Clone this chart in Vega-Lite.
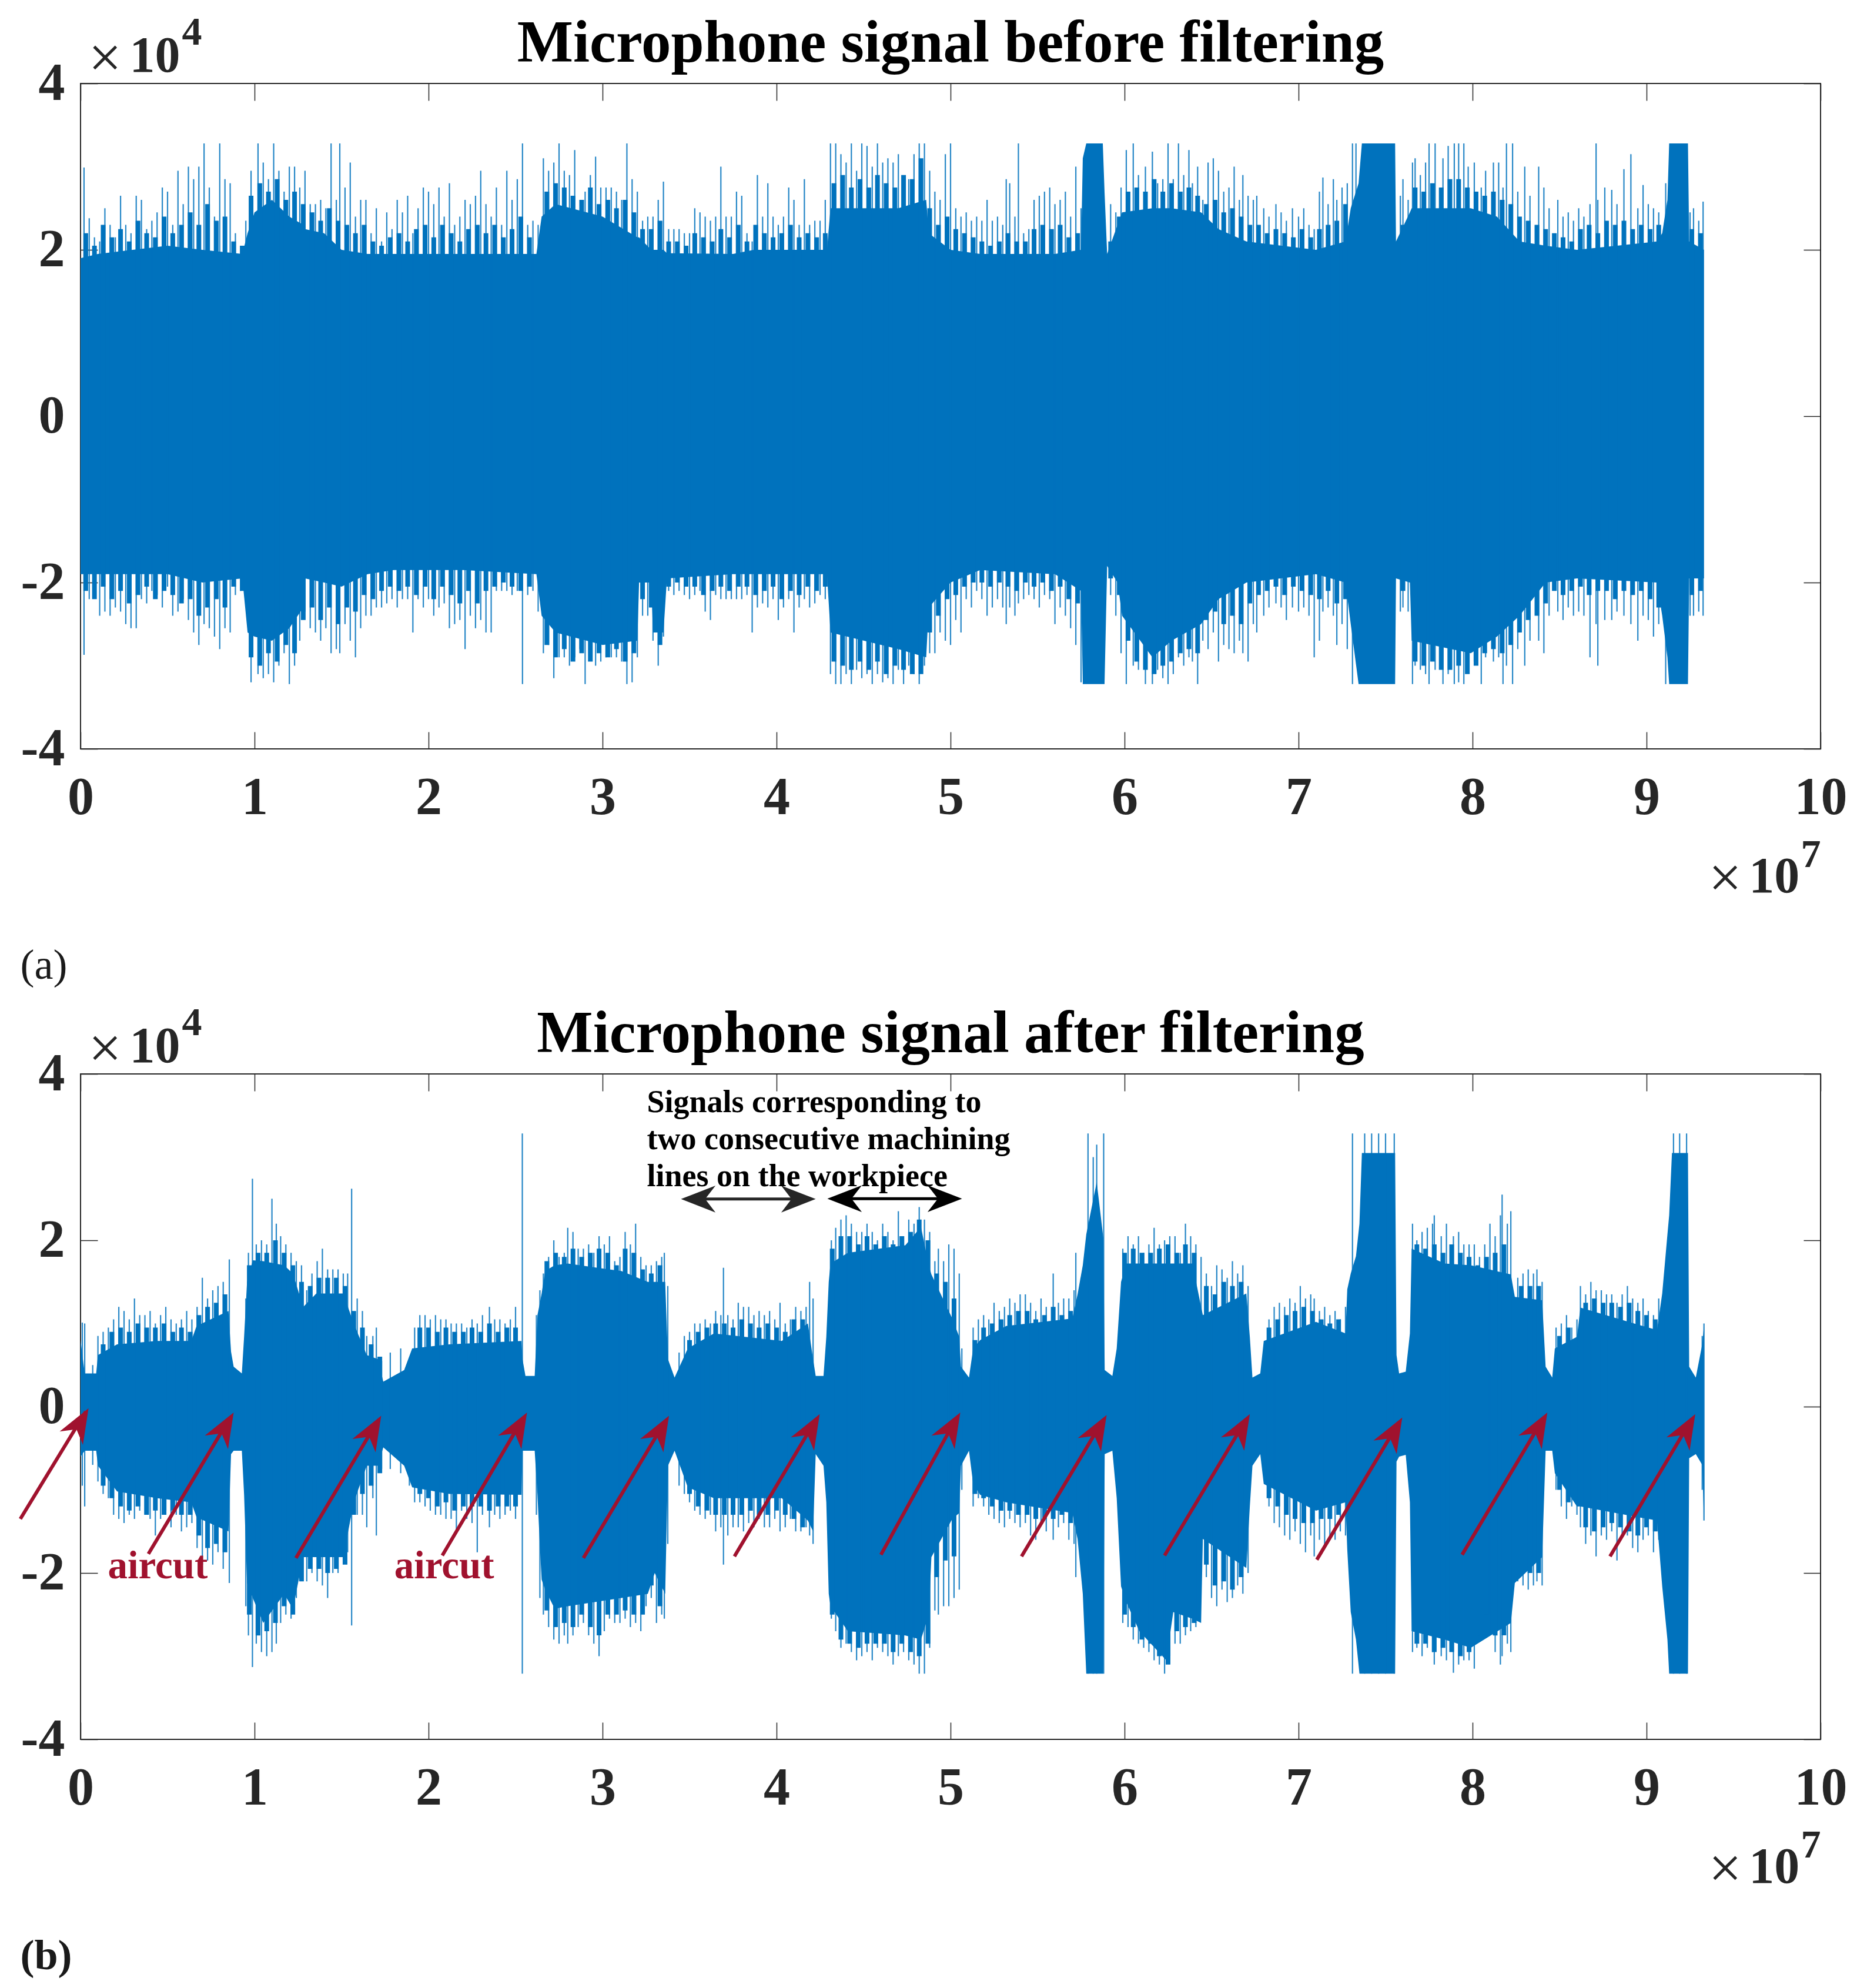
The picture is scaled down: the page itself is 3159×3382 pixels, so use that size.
{"$schema":"https://vega.github.io/schema/vega-lite/v6.json","background":"white","padding":{"left":30,"top":21,"right":0,"bottom":0},"bounds":"flush","spacing":553,"config":{"view":{"stroke":"#262626","strokeWidth":2}},
"datasets":{
"core1":[{"x":0,"h":1.9,"l":-1.9},{"x":0.1,"h":1.95,"l":-1.9},{"x":0.3,"h":2,"l":-1.9},{"x":0.5,"h":2.05,"l":-1.9},{"x":0.7,"h":2,"l":-2},{"x":0.93,"h":1.95,"l":-1.95},{"x":0.96,"h":2.2,"l":-2.6},{"x":1,"h":2.45,"l":-2.65},{"x":1.1,"h":2.6,"l":-2.7},{"x":1.2,"h":2.4,"l":-2.55},{"x":1.28,"h":2.3,"l":-2.3},{"x":1.29,"h":2.25,"l":-1.95},{"x":1.4,"h":2.2,"l":-2},{"x":1.5,"h":2,"l":-2.05},{"x":1.65,"h":1.95,"l":-1.9},{"x":1.8,"h":1.95,"l":-1.85},{"x":2.2,"h":1.95,"l":-1.85},{"x":2.62,"h":1.95,"l":-1.9},{"x":2.65,"h":2.4,"l":-2.4},{"x":2.73,"h":2.55,"l":-2.6},{"x":3,"h":2.4,"l":-2.75},{"x":3.2,"h":2.15,"l":-2.7},{"x":3.21,"h":2.15,"l":-2},{"x":3.28,"h":2,"l":-2},{"x":3.29,"h":2,"l":-2.6},{"x":3.35,"h":2,"l":-2.6},{"x":3.37,"h":1.96,"l":-1.95},{"x":3.75,"h":1.95,"l":-1.9},{"x":3.87,"h":2,"l":-1.9},{"x":4.29,"h":2,"l":-1.9},{"x":4.31,"h":2.5,"l":-2.6},{"x":4.7,"h":2.5,"l":-2.8},{"x":4.86,"h":2.6,"l":-2.9},{"x":4.875,"h":2.2,"l":-2.3},{"x":5,"h":2,"l":-2},{"x":5.17,"h":1.95,"l":-1.85},{"x":5.6,"h":1.95,"l":-1.9},{"x":5.75,"h":2,"l":-2.1},{"x":5.76,"h":3.1,"l":-3.22},{"x":5.78,"h":3.28,"l":-3.22},{"x":5.875,"h":3.28,"l":-3.22},{"x":5.885,"h":2.7,"l":-3.22},{"x":5.9,"h":1.95,"l":-1.8},{"x":5.96,"h":2.3,"l":-2},{"x":5.986,"h":2.45,"l":-2.4},{"x":6.16,"h":2.5,"l":-2.9},{"x":6.27,"h":2.5,"l":-2.7},{"x":6.44,"h":2.45,"l":-2.5},{"x":6.54,"h":2.25,"l":-2.2},{"x":6.7,"h":2.1,"l":-2},{"x":7.1,"h":2,"l":-1.9},{"x":7.27,"h":2.1,"l":-2},{"x":7.3,"h":2.5,"l":-2.5},{"x":7.345,"h":2.8,"l":-3.22},{"x":7.364,"h":3.28,"l":-3.22},{"x":7.555,"h":3.28,"l":-3.22},{"x":7.56,"h":2.1,"l":-1.95},{"x":7.64,"h":2.45,"l":-2},{"x":7.65,"h":2.5,"l":-2.7},{"x":7.99,"h":2.5,"l":-2.85},{"x":8.14,"h":2.4,"l":-2.65},{"x":8.27,"h":2.1,"l":-2.4},{"x":8.42,"h":2.05,"l":-2},{"x":8.6,"h":2,"l":-1.95},{"x":9.06,"h":2.1,"l":-2},{"x":9.09,"h":2.2,"l":-2.4},{"x":9.12,"h":2.6,"l":-2.9},{"x":9.13,"h":3.28,"l":-3.22},{"x":9.238,"h":3.28,"l":-3.22},{"x":9.245,"h":2.1,"l":-1.95},{"x":9.33,"h":2,"l":-1.95}],
"fr1":[{"x":0.03,"h":2.2,"l":-2.1},{"x":0.08,"h":2.05,"l":-2.2},{"x":0.13,"h":2.3,"l":-2.05},{"x":0.18,"h":2.15,"l":-2.2},{"x":0.23,"h":2.25,"l":-2.1},{"x":0.28,"h":2.1,"l":-2.25},{"x":0.33,"h":2.35,"l":-2.15},{"x":0.38,"h":2.2,"l":-2.05},{"x":0.43,"h":2.15,"l":-2.2},{"x":0.48,"h":2.4,"l":-2.1},{"x":0.53,"h":2.2,"l":-2.15},{"x":0.58,"h":2.3,"l":-2.25},{"x":0.63,"h":2.45,"l":-2.2},{"x":0.68,"h":2.3,"l":-2.4},{"x":0.73,"h":2.55,"l":-2.3},{"x":0.78,"h":2.35,"l":-2.2},{"x":0.83,"h":2.4,"l":-2.3},{"x":0.88,"h":2.1,"l":-2.05},{"x":0.93,"h":2.05,"l":-2.1},{"x":0.98,"h":2.65,"l":-2.9},{"x":1.03,"h":2.8,"l":-3},{"x":1.08,"h":2.7,"l":-2.85},{"x":1.13,"h":2.85,"l":-2.95},{"x":1.18,"h":2.6,"l":-2.75},{"x":1.23,"h":2.7,"l":-2.85},{"x":1.28,"h":2.55,"l":-2.45},{"x":1.33,"h":2.45,"l":-2.3},{"x":1.38,"h":2.35,"l":-2.45},{"x":1.43,"h":2.5,"l":-2.3},{"x":1.48,"h":2.35,"l":-2.5},{"x":1.53,"h":2.3,"l":-2.3},{"x":1.58,"h":2.2,"l":-2.35},{"x":1.63,"h":2.3,"l":-2.15},{"x":1.68,"h":2.1,"l":-2.2},{"x":1.73,"h":2.05,"l":-2.1},{"x":1.78,"h":2.15,"l":-2.05},{"x":1.83,"h":2.2,"l":-2.1},{"x":1.88,"h":2.1,"l":-2.05},{"x":1.93,"h":2.25,"l":-2.15},{"x":1.98,"h":2.3,"l":-2.05},{"x":2.03,"h":2.15,"l":-2.2},{"x":2.08,"h":2.3,"l":-2.05},{"x":2.13,"h":2.2,"l":-2.15},{"x":2.18,"h":2.1,"l":-2.25},{"x":2.23,"h":2.25,"l":-2.1},{"x":2.28,"h":2.3,"l":-2.25},{"x":2.33,"h":2.2,"l":-2.1},{"x":2.38,"h":2.3,"l":-2.05},{"x":2.43,"h":2.15,"l":-2},{"x":2.48,"h":2.25,"l":-2.05},{"x":2.53,"h":2.4,"l":-2.1},{"x":2.58,"h":2.15,"l":-2.05},{"x":2.68,"h":2.7,"l":-2.75},{"x":2.73,"h":2.8,"l":-2.9},{"x":2.78,"h":2.75,"l":-2.8},{"x":2.83,"h":2.65,"l":-2.95},{"x":2.88,"h":2.6,"l":-2.85},{"x":2.93,"h":2.75,"l":-2.95},{"x":2.98,"h":2.55,"l":-2.85},{"x":3.03,"h":2.6,"l":-2.9},{"x":3.08,"h":2.5,"l":-2.8},{"x":3.13,"h":2.6,"l":-2.95},{"x":3.18,"h":2.45,"l":-2.85},{"x":3.23,"h":2.25,"l":-2.2},{"x":3.28,"h":2.25,"l":-2.3},{"x":3.33,"h":2.35,"l":-2.75},{"x":3.38,"h":2.1,"l":-2.05},{"x":3.43,"h":2.1,"l":-2},{"x":3.48,"h":2.05,"l":-2.05},{"x":3.53,"h":2.2,"l":-2.05},{"x":3.58,"h":2.15,"l":-2.15},{"x":3.63,"h":2.1,"l":-2.1},{"x":3.68,"h":2.25,"l":-2.05},{"x":3.73,"h":2.15,"l":-2.1},{"x":3.78,"h":2.3,"l":-2.05},{"x":3.83,"h":2.1,"l":-2.05},{"x":3.88,"h":2.3,"l":-2.15},{"x":3.93,"h":2.2,"l":-2.1},{"x":3.98,"h":2.15,"l":-2.05},{"x":4.03,"h":2.2,"l":-2.2},{"x":4.08,"h":2.3,"l":-2.1},{"x":4.13,"h":2.15,"l":-2.15},{"x":4.18,"h":2.2,"l":-2.05},{"x":4.23,"h":2.15,"l":-2.1},{"x":4.28,"h":2.2,"l":-2.05},{"x":4.33,"h":2.8,"l":-2.95},{"x":4.38,"h":2.9,"l":-3},{"x":4.43,"h":2.75,"l":-3.05},{"x":4.48,"h":2.85,"l":-2.95},{"x":4.53,"h":2.75,"l":-3.05},{"x":4.58,"h":2.9,"l":-2.95},{"x":4.63,"h":2.8,"l":-3.1},{"x":4.68,"h":2.75,"l":-3},{"x":4.73,"h":2.9,"l":-3.05},{"x":4.78,"h":2.85,"l":-3.1},{"x":4.83,"h":3.1,"l":-3.1},{"x":4.88,"h":2.5,"l":-2.6},{"x":4.93,"h":2.3,"l":-2.4},{"x":4.98,"h":2.4,"l":-2.2},{"x":5.03,"h":2.25,"l":-2.15},{"x":5.08,"h":2.2,"l":-2.05},{"x":5.13,"h":2.15,"l":-2},{"x":5.18,"h":2.1,"l":-2},{"x":5.23,"h":2.05,"l":-2.05},{"x":5.28,"h":2.1,"l":-2},{"x":5.33,"h":2.2,"l":-2.05},{"x":5.38,"h":2.1,"l":-2.1},{"x":5.43,"h":2.1,"l":-2},{"x":5.48,"h":2.25,"l":-2.05},{"x":5.53,"h":2.3,"l":-2},{"x":5.58,"h":2.25,"l":-2.1},{"x":5.63,"h":2.3,"l":-2.05},{"x":5.68,"h":2.15,"l":-2.2},{"x":5.73,"h":2.2,"l":-2.25},{"x":5.92,"h":2.1,"l":-1.95},{"x":5.97,"h":2.4,"l":-2.15},{"x":6.02,"h":2.7,"l":-2.7},{"x":6.07,"h":2.75,"l":-2.95},{"x":6.12,"h":2.7,"l":-3.05},{"x":6.17,"h":2.85,"l":-3.1},{"x":6.22,"h":2.7,"l":-3},{"x":6.27,"h":2.8,"l":-2.95},{"x":6.32,"h":2.7,"l":-2.85},{"x":6.37,"h":2.75,"l":-2.8},{"x":6.42,"h":2.65,"l":-2.85},{"x":6.47,"h":2.55,"l":-2.45},{"x":6.52,"h":2.6,"l":-2.35},{"x":6.57,"h":2.45,"l":-2.5},{"x":6.62,"h":2.5,"l":-2.4},{"x":6.67,"h":2.4,"l":-2.5},{"x":6.72,"h":2.3,"l":-2.25},{"x":6.77,"h":2.3,"l":-2.15},{"x":6.82,"h":2.2,"l":-2.1},{"x":6.87,"h":2.25,"l":-2.05},{"x":6.92,"h":2.2,"l":-2.15},{"x":6.97,"h":2.15,"l":-2.05},{"x":7.02,"h":2.25,"l":-2.1},{"x":7.07,"h":2.15,"l":-2.15},{"x":7.12,"h":2.25,"l":-2.2},{"x":7.17,"h":2.3,"l":-2.1},{"x":7.22,"h":2.35,"l":-2.25},{"x":7.27,"h":2.55,"l":-2.2},{"x":7.6,"h":2.3,"l":-2.1},{"x":7.67,"h":2.75,"l":-2.95},{"x":7.72,"h":2.7,"l":-3},{"x":7.77,"h":2.8,"l":-2.95},{"x":7.82,"h":2.75,"l":-3.05},{"x":7.87,"h":2.85,"l":-3.05},{"x":7.92,"h":2.85,"l":-3},{"x":7.97,"h":2.75,"l":-3.1},{"x":8.02,"h":2.7,"l":-3},{"x":8.07,"h":2.65,"l":-2.85},{"x":8.12,"h":2.7,"l":-2.8},{"x":8.17,"h":2.6,"l":-2.85},{"x":8.22,"h":2.55,"l":-2.75},{"x":8.27,"h":2.4,"l":-2.6},{"x":8.32,"h":2.35,"l":-2.45},{"x":8.37,"h":2.3,"l":-2.4},{"x":8.42,"h":2.25,"l":-2.25},{"x":8.47,"h":2.2,"l":-2.1},{"x":8.52,"h":2.15,"l":-2.15},{"x":8.57,"h":2.1,"l":-2.1},{"x":8.62,"h":2.25,"l":-2.05},{"x":8.67,"h":2.3,"l":-2.15},{"x":8.72,"h":2.2,"l":-2.1},{"x":8.77,"h":2.35,"l":-2.1},{"x":8.82,"h":2.3,"l":-2.2},{"x":8.87,"h":2.35,"l":-2.1},{"x":8.92,"h":2.25,"l":-2.15},{"x":8.97,"h":2.3,"l":-2.1},{"x":9.02,"h":2.25,"l":-2.2},{"x":9.07,"h":2.3,"l":-2.3},{"x":9.26,"h":2.25,"l":-2.15},{"x":9.31,"h":2.2,"l":-2.1}],
"sp1":[{"x":0.02,"h":2.99,"l":-2.87},{"x":0.05,"h":2.38,"l":-2.2},{"x":0.08,"h":2.15,"l":-2.05},{"x":0.11,"h":2.1,"l":-2.4},{"x":0.14,"h":2.5,"l":-2.35},{"x":0.17,"h":2.3,"l":-2.4},{"x":0.2,"h":2.15,"l":-2.3},{"x":0.23,"h":2.65,"l":-2.35},{"x":0.26,"h":2.3,"l":-2.5},{"x":0.29,"h":2.2,"l":-2.55},{"x":0.32,"h":2.65,"l":-2.55},{"x":0.35,"h":2.6,"l":-2.2},{"x":0.38,"h":2.25,"l":-2.25},{"x":0.41,"h":2.35,"l":-2.1},{"x":0.44,"h":2.45,"l":-2.15},{"x":0.47,"h":2.75,"l":-2.3},{"x":0.5,"h":2.7,"l":-2.05},{"x":0.53,"h":2.3,"l":-2.4},{"x":0.56,"h":2.95,"l":-2.35},{"x":0.59,"h":2.55,"l":-2.2},{"x":0.62,"h":3,"l":-2.45},{"x":0.65,"h":2.85,"l":-2.6},{"x":0.68,"h":3,"l":-2.75},{"x":0.71,"h":3.28,"l":-2.5},{"x":0.74,"h":2.75,"l":-2.55},{"x":0.77,"h":2.4,"l":-2.65},{"x":0.8,"h":3.28,"l":-2.8},{"x":0.83,"h":2.85,"l":-2.55},{"x":0.86,"h":2.8,"l":-2.6},{"x":0.89,"h":2.2,"l":-2.15},{"x":0.92,"h":2.05,"l":-2.1},{"x":0.95,"h":2.35,"l":-2.2},{"x":0.98,"h":2.95,"l":-3.2},{"x":1.02,"h":3.28,"l":-3.1},{"x":1.05,"h":3.05,"l":-3.15},{"x":1.08,"h":2.85,"l":-3.1},{"x":1.11,"h":3.28,"l":-3.2},{"x":1.14,"h":2.95,"l":-3},{"x":1.17,"h":2.7,"l":-2.85},{"x":1.2,"h":3,"l":-3.22},{"x":1.23,"h":3,"l":-3},{"x":1.26,"h":2.75,"l":-2.7},{"x":1.29,"h":2.95,"l":-2.35},{"x":1.32,"h":2.55,"l":-2.55},{"x":1.35,"h":2.55,"l":-2.6},{"x":1.38,"h":2.6,"l":-2.7},{"x":1.41,"h":2.5,"l":-2.55},{"x":1.44,"h":3.28,"l":-2.85},{"x":1.47,"h":2.6,"l":-2.8},{"x":1.49,"h":3.28,"l":-2.85},{"x":1.52,"h":2.75,"l":-2.5},{"x":1.55,"h":3.05,"l":-2.7},{"x":1.58,"h":2.4,"l":-2.9},{"x":1.61,"h":2.6,"l":-2.55},{"x":1.64,"h":2.6,"l":-2.4},{"x":1.67,"h":2.2,"l":-2.4},{"x":1.7,"h":2.5,"l":-2.3},{"x":1.73,"h":2.1,"l":-2.3},{"x":1.76,"h":2.45,"l":-2.25},{"x":1.79,"h":2.25,"l":-2.2},{"x":1.82,"h":2.6,"l":-2.3},{"x":1.85,"h":2.45,"l":-2.2},{"x":1.88,"h":2.65,"l":-2.2},{"x":1.91,"h":2.2,"l":-2.6},{"x":1.94,"h":2.5,"l":-2.2},{"x":1.97,"h":2.75,"l":-2.3},{"x":2,"h":2.7,"l":-2.2},{"x":2.03,"h":2.55,"l":-2.4},{"x":2.06,"h":2.75,"l":-2.3},{"x":2.09,"h":2.4,"l":-2.25},{"x":2.12,"h":2.8,"l":-2.55},{"x":2.15,"h":2.3,"l":-2.5},{"x":2.18,"h":2.4,"l":-2.45},{"x":2.21,"h":2.6,"l":-2.8},{"x":2.24,"h":2.55,"l":-2.4},{"x":2.27,"h":2.65,"l":-2.55},{"x":2.3,"h":2.95,"l":-2.45},{"x":2.33,"h":2.55,"l":-2.6},{"x":2.36,"h":2.4,"l":-2.6},{"x":2.39,"h":2.75,"l":-2.1},{"x":2.42,"h":2.3,"l":-2.1},{"x":2.45,"h":2.95,"l":-2.1},{"x":2.48,"h":2.6,"l":-2.15},{"x":2.51,"h":2.85,"l":-2.1},{"x":2.54,"h":3.28,"l":-3.22},{"x":2.57,"h":2.3,"l":-2.15},{"x":2.6,"h":2.35,"l":-2.1},{"x":2.63,"h":2.3,"l":-2.35},{"x":2.66,"h":3.1,"l":-2.85},{"x":2.69,"h":2.95,"l":-2.75},{"x":2.72,"h":3.05,"l":-3.15},{"x":2.75,"h":3.28,"l":-2.9},{"x":2.78,"h":2.95,"l":-2.9},{"x":2.81,"h":2.9,"l":-3},{"x":2.84,"h":3.2,"l":-2.9},{"x":2.87,"h":2.4,"l":-2.8},{"x":2.9,"h":2.7,"l":-3.22},{"x":2.93,"h":2.9,"l":-2.9},{"x":2.96,"h":3.12,"l":-3},{"x":2.99,"h":2.75,"l":-2.95},{"x":3.02,"h":2.75,"l":-2.9},{"x":3.05,"h":2.75,"l":-2.9},{"x":3.08,"h":2.7,"l":-2.9},{"x":3.11,"h":2.6,"l":-2.95},{"x":3.14,"h":3.28,"l":-3.22},{"x":3.17,"h":2.85,"l":-3.2},{"x":3.2,"h":2.7,"l":-2.9},{"x":3.23,"h":2.35,"l":-2.4},{"x":3.26,"h":2.4,"l":-2.4},{"x":3.29,"h":2.4,"l":-2.7},{"x":3.32,"h":2.6,"l":-3},{"x":3.35,"h":2.82,"l":-2.65},{"x":3.38,"h":2.25,"l":-2.1},{"x":3.41,"h":2.25,"l":-2.15},{"x":3.44,"h":2.25,"l":-2.1},{"x":3.47,"h":2.2,"l":-2.15},{"x":3.5,"h":2.2,"l":-2.2},{"x":3.53,"h":2.5,"l":-2.15},{"x":3.56,"h":2.45,"l":-2.1},{"x":3.59,"h":2.4,"l":-2.35},{"x":3.62,"h":2.35,"l":-2.45},{"x":3.65,"h":2.4,"l":-2.15},{"x":3.68,"h":3,"l":-2.2},{"x":3.71,"h":2.4,"l":-2.2},{"x":3.74,"h":2.4,"l":-2.2},{"x":3.77,"h":2.7,"l":-2.2},{"x":3.8,"h":2.65,"l":-2.2},{"x":3.83,"h":2.2,"l":-2.15},{"x":3.86,"h":2.1,"l":-2.6},{"x":3.89,"h":2.9,"l":-2.3},{"x":3.92,"h":2.4,"l":-2.25},{"x":3.95,"h":2.8,"l":-2.3},{"x":3.98,"h":2.4,"l":-2.2},{"x":4.01,"h":2.3,"l":-2.45},{"x":4.04,"h":2.4,"l":-2.3},{"x":4.07,"h":2.75,"l":-2.2},{"x":4.1,"h":2.6,"l":-2.6},{"x":4.13,"h":2.3,"l":-2.3},{"x":4.16,"h":2.85,"l":-2.2},{"x":4.19,"h":2.3,"l":-2.3},{"x":4.22,"h":2.35,"l":-2.25},{"x":4.25,"h":2.35,"l":-2.15},{"x":4.28,"h":2.6,"l":-2.2},{"x":4.31,"h":3.28,"l":-3.1},{"x":4.34,"h":3.28,"l":-3.22},{"x":4.37,"h":3.15,"l":-3.22},{"x":4.4,"h":3.05,"l":-3.1},{"x":4.43,"h":3.28,"l":-3.22},{"x":4.46,"h":2.95,"l":-3.05},{"x":4.49,"h":3.28,"l":-3.15},{"x":4.52,"h":3.25,"l":-3.1},{"x":4.55,"h":3,"l":-3.22},{"x":4.58,"h":3.28,"l":-3.1},{"x":4.61,"h":3.05,"l":-3.2},{"x":4.64,"h":3.1,"l":-3.15},{"x":4.67,"h":3.05,"l":-3.22},{"x":4.7,"h":3.15,"l":-3.05},{"x":4.73,"h":2.75,"l":-3.22},{"x":4.76,"h":2.85,"l":-3},{"x":4.79,"h":3.15,"l":-3.1},{"x":4.82,"h":3.28,"l":-3.22},{"x":4.85,"h":3.28,"l":-3},{"x":4.88,"h":2.95,"l":-2.85},{"x":4.91,"h":2.7,"l":-2.85},{"x":4.94,"h":2.6,"l":-2.6},{"x":4.97,"h":3.15,"l":-2.7},{"x":5,"h":3.28,"l":-2.75},{"x":5.03,"h":2.5,"l":-2.45},{"x":5.06,"h":2.4,"l":-2.6},{"x":5.09,"h":2.45,"l":-2.2},{"x":5.12,"h":2.35,"l":-2.3},{"x":5.15,"h":2.4,"l":-2.1},{"x":5.18,"h":2.35,"l":-2.2},{"x":5.21,"h":2.6,"l":-2.4},{"x":5.24,"h":2.35,"l":-2.3},{"x":5.27,"h":2.4,"l":-2.2},{"x":5.3,"h":2.3,"l":-2.3},{"x":5.32,"h":2.85,"l":-2.5},{"x":5.34,"h":2.8,"l":-2.3},{"x":5.37,"h":2.4,"l":-2.4},{"x":5.39,"h":3.28,"l":-2.25},{"x":5.42,"h":2.2,"l":-2.2},{"x":5.45,"h":2.25,"l":-2.15},{"x":5.48,"h":2.6,"l":-2.2},{"x":5.51,"h":2.65,"l":-2.3},{"x":5.54,"h":2.7,"l":-2.15},{"x":5.57,"h":2.75,"l":-2.2},{"x":5.6,"h":2.55,"l":-2.5},{"x":5.63,"h":2.6,"l":-2.3},{"x":5.66,"h":2.7,"l":-2.4},{"x":5.69,"h":2.4,"l":-2.55},{"x":5.72,"h":3,"l":-2.75},{"x":5.75,"h":2.5,"l":-3.2},{"x":5.92,"h":2.55,"l":-2.15},{"x":5.95,"h":2.45,"l":-2.4},{"x":5.98,"h":2.75,"l":-2.85},{"x":6.01,"h":3.2,"l":-3.22},{"x":6.05,"h":3.28,"l":-3},{"x":6.08,"h":2.9,"l":-3.05},{"x":6.12,"h":3,"l":-3.22},{"x":6.16,"h":3.18,"l":-3.22},{"x":6.19,"h":2.8,"l":-3.05},{"x":6.22,"h":2.85,"l":-3.15},{"x":6.25,"h":3.28,"l":-3.22},{"x":6.28,"h":2.85,"l":-3.1},{"x":6.31,"h":3.28,"l":-2.9},{"x":6.34,"h":2.9,"l":-3},{"x":6.37,"h":3.2,"l":-2.9},{"x":6.39,"h":2.8,"l":-2.95},{"x":6.42,"h":3,"l":-3.22},{"x":6.45,"h":2.6,"l":-2.7},{"x":6.48,"h":3.05,"l":-2.8},{"x":6.51,"h":3.1,"l":-2.6},{"x":6.54,"h":2.95,"l":-2.95},{"x":6.57,"h":2.7,"l":-2.75},{"x":6.6,"h":2.75,"l":-2.8},{"x":6.63,"h":3,"l":-2.85},{"x":6.66,"h":2.6,"l":-2.7},{"x":6.68,"h":2.9,"l":-2.85},{"x":6.71,"h":2.65,"l":-2.95},{"x":6.74,"h":2.6,"l":-2.5},{"x":6.76,"h":2.65,"l":-2.6},{"x":6.8,"h":2.5,"l":-2.4},{"x":6.83,"h":2.4,"l":-2.3},{"x":6.87,"h":2.55,"l":-2.25},{"x":6.9,"h":2.45,"l":-2.3},{"x":6.93,"h":2.35,"l":-2.45},{"x":6.965,"h":2.5,"l":-2.3},{"x":7,"h":2.4,"l":-2.35},{"x":7.03,"h":2.5,"l":-2.3},{"x":7.06,"h":2.3,"l":-2.4},{"x":7.09,"h":2.25,"l":-2.9},{"x":7.12,"h":2.7,"l":-2.7},{"x":7.14,"h":2.87,"l":-2.35},{"x":7.17,"h":2.55,"l":-2.3},{"x":7.2,"h":2.85,"l":-2.4},{"x":7.22,"h":2.6,"l":-2.75},{"x":7.25,"h":2.75,"l":-2.5},{"x":7.28,"h":2.8,"l":-2.8},{"x":7.31,"h":3.28,"l":-3.22},{"x":7.33,"h":3.28,"l":-2.9},{"x":7.585,"h":2.65,"l":-2.35},{"x":7.6,"h":2.85,"l":-2.3},{"x":7.63,"h":2.6,"l":-2.35},{"x":7.655,"h":3.05,"l":-3.22},{"x":7.67,"h":3.1,"l":-3},{"x":7.7,"h":2.9,"l":-3.05},{"x":7.73,"h":3.05,"l":-3.1},{"x":7.75,"h":3.28,"l":-3.22},{"x":7.785,"h":3.28,"l":-3.05},{"x":7.83,"h":3.1,"l":-3.22},{"x":7.86,"h":3.25,"l":-3.1},{"x":7.895,"h":3.28,"l":-3.22},{"x":7.92,"h":3.28,"l":-3.2},{"x":7.95,"h":3.28,"l":-3.22},{"x":7.975,"h":3,"l":-3},{"x":8.01,"h":3.05,"l":-2.95},{"x":8.05,"h":2.75,"l":-3.22},{"x":8.075,"h":2.95,"l":-2.9},{"x":8.12,"h":3.05,"l":-2.95},{"x":8.15,"h":3.05,"l":-2.9},{"x":8.175,"h":2.75,"l":-3.22},{"x":8.195,"h":3.28,"l":-3},{"x":8.23,"h":3.28,"l":-3.22},{"x":8.26,"h":2.7,"l":-2.8},{"x":8.3,"h":3,"l":-3},{"x":8.33,"h":2.65,"l":-2.7},{"x":8.38,"h":3,"l":-2.7},{"x":8.41,"h":2.75,"l":-2.85},{"x":8.44,"h":2.5,"l":-2.4},{"x":8.49,"h":2.6,"l":-2.35},{"x":8.52,"h":2.4,"l":-2.45},{"x":8.55,"h":2.45,"l":-2.3},{"x":8.58,"h":2.35,"l":-2.4},{"x":8.61,"h":2.5,"l":-2.35},{"x":8.64,"h":2.4,"l":-2.4},{"x":8.675,"h":2.55,"l":-2.9},{"x":8.71,"h":3.28,"l":-2.5},{"x":8.72,"h":2.6,"l":-3},{"x":8.76,"h":2.75,"l":-2.45},{"x":8.8,"h":2.72,"l":-2.45},{"x":8.83,"h":2.55,"l":-2.35},{"x":8.87,"h":2.97,"l":-2.4},{"x":8.91,"h":3.15,"l":-2.5},{"x":8.95,"h":2.5,"l":-2.7},{"x":8.98,"h":2.78,"l":-2.4},{"x":9.01,"h":2.55,"l":-2.45},{"x":9.04,"h":2.5,"l":-2.65},{"x":9.07,"h":2.45,"l":-2.5},{"x":9.11,"h":2.8,"l":-3.22},{"x":9.25,"h":2.45,"l":-2.4},{"x":9.27,"h":2.5,"l":-2.4},{"x":9.3,"h":2.35,"l":-2.35},{"x":9.325,"h":2.58,"l":-2.4}],
"core2":[{"x":0,"h":0.8,"l":-0.6},{"x":0.024,"h":0.4,"l":-0.53},{"x":0.09,"h":0.4,"l":-0.53},{"x":0.1,"h":0.62,"l":-0.71},{"x":0.21,"h":0.75,"l":-1.02},{"x":0.44,"h":0.79,"l":-1.1},{"x":0.636,"h":0.79,"l":-1.15},{"x":0.667,"h":0.97,"l":-1.33},{"x":0.85,"h":1.15,"l":-1.5},{"x":0.865,"h":0.66,"l":-0.57},{"x":0.88,"h":0.48,"l":-0.53},{"x":0.927,"h":0.4,"l":-0.53},{"x":0.94,"h":0.84,"l":-1.06},{"x":0.957,"h":1.5,"l":-2.12},{"x":0.99,"h":1.76,"l":-2.3},{"x":1.05,"h":1.75,"l":-2.6},{"x":1.17,"h":1.7,"l":-2.25},{"x":1.22,"h":1.6,"l":-2.43},{"x":1.28,"h":1.2,"l":-1.81},{"x":1.355,"h":1.36,"l":-1.81},{"x":1.51,"h":1.36,"l":-1.81},{"x":1.57,"h":1,"l":-1.15},{"x":1.645,"h":0.62,"l":-0.71},{"x":1.71,"h":0.57,"l":-0.71},{"x":1.74,"h":0.3,"l":-0.49},{"x":1.86,"h":0.44,"l":-0.71},{"x":1.906,"h":0.7,"l":-0.97},{"x":2.12,"h":0.75,"l":-1.05},{"x":2.534,"h":0.79,"l":-1.06},{"x":2.54,"h":0.57,"l":-0.53},{"x":2.557,"h":0.37,"l":-0.53},{"x":2.61,"h":0.37,"l":-0.53},{"x":2.626,"h":1.1,"l":-1.06},{"x":2.64,"h":1.25,"l":-1.68},{"x":2.65,"h":1.36,"l":-2.08},{"x":2.67,"h":1.63,"l":-2.2},{"x":2.725,"h":1.7,"l":-2.43},{"x":2.8,"h":1.72,"l":-2.4},{"x":3.108,"h":1.63,"l":-2.3},{"x":3.26,"h":1.5,"l":-2.25},{"x":3.3,"h":1.5,"l":-2},{"x":3.36,"h":1.5,"l":-2.25},{"x":3.376,"h":0.57,"l":-0.71},{"x":3.414,"h":0.35,"l":-0.53},{"x":3.49,"h":0.7,"l":-0.97},{"x":3.64,"h":0.88,"l":-1.1},{"x":4.03,"h":0.79,"l":-1.1},{"x":4.18,"h":1,"l":-1.37},{"x":4.21,"h":0.57,"l":-1.5},{"x":4.225,"h":0.37,"l":-0.57},{"x":4.27,"h":0.37,"l":-0.71},{"x":4.286,"h":0.84,"l":-1.15},{"x":4.3,"h":1.5,"l":-2.25},{"x":4.31,"h":1.72,"l":-2.4},{"x":4.41,"h":1.85,"l":-2.7},{"x":4.74,"h":1.94,"l":-2.75},{"x":4.83,"h":2.16,"l":-2.8},{"x":4.875,"h":1.7,"l":-2.5},{"x":4.89,"h":1.59,"l":-1.81},{"x":5.01,"h":1.06,"l":-1.35},{"x":5.05,"h":0.84,"l":-1.28},{"x":5.06,"h":0.48,"l":-0.71},{"x":5.106,"h":0.35,"l":-0.53},{"x":5.13,"h":0.7,"l":-0.93},{"x":5.17,"h":0.8,"l":-1.06},{"x":5.32,"h":0.97,"l":-1.15},{"x":5.7,"h":1.06,"l":-1.28},{"x":5.73,"h":1.35,"l":-1.59},{"x":5.76,"h":1.7,"l":-2.25},{"x":5.78,"h":2.07,"l":-3.21},{"x":5.84,"h":2.7,"l":-3.21},{"x":5.878,"h":2.03,"l":-3.21},{"x":5.886,"h":0.44,"l":-0.57},{"x":5.93,"h":0.37,"l":-0.53},{"x":5.955,"h":0.7,"l":-1.1},{"x":5.98,"h":1.5,"l":-2.16},{"x":6.01,"h":1.72,"l":-2.35},{"x":6.085,"h":1.72,"l":-2.7},{"x":6.24,"h":1.72,"l":-3.05},{"x":6.28,"h":1.72,"l":-2.47},{"x":6.39,"h":1.72,"l":-2.55},{"x":6.44,"h":1.2,"l":-2.6},{"x":6.45,"h":1.1,"l":-1.59},{"x":6.7,"h":1.36,"l":-1.94},{"x":6.72,"h":0.84,"l":-1.2},{"x":6.735,"h":0.35,"l":-0.71},{"x":6.78,"h":0.4,"l":-0.57},{"x":6.8,"h":0.79,"l":-0.93},{"x":7.1,"h":1.02,"l":-1.25},{"x":7.27,"h":0.88,"l":-1.15},{"x":7.28,"h":1.41,"l":-1.72},{"x":7.3,"h":1.6,"l":-2.47},{"x":7.33,"h":1.81,"l":-2.8},{"x":7.35,"h":2.2,"l":-3.21},{"x":7.364,"h":3.05,"l":-3.21},{"x":7.555,"h":3.05,"l":-3.21},{"x":7.563,"h":0.62,"l":-0.66},{"x":7.578,"h":0.4,"l":-0.6},{"x":7.616,"h":0.42,"l":-0.58},{"x":7.64,"h":0.88,"l":-1.15},{"x":7.65,"h":1.9,"l":-2.7},{"x":7.84,"h":1.72,"l":-2.8},{"x":7.99,"h":1.7,"l":-2.9},{"x":8.22,"h":1.59,"l":-2.6},{"x":8.243,"h":1.32,"l":-2.12},{"x":8.4,"h":1.28,"l":-1.81},{"x":8.42,"h":0.48,"l":-0.53},{"x":8.458,"h":0.35,"l":-0.53},{"x":8.473,"h":0.7,"l":-0.8},{"x":8.6,"h":0.84,"l":-1.2},{"x":8.62,"h":1.19,"l":-1.2},{"x":9.06,"h":0.92,"l":-1.37},{"x":9.09,"h":1.36,"l":-2.16},{"x":9.12,"h":2.07,"l":-2.8},{"x":9.13,"h":2.3,"l":-3.21},{"x":9.146,"h":3.05,"l":-3.21},{"x":9.238,"h":3.05,"l":-3.21},{"x":9.245,"h":0.48,"l":-0.62},{"x":9.283,"h":0.35,"l":-0.57},{"x":9.32,"h":0.75,"l":-0.7},{"x":9.33,"h":0.97,"l":-1.37}],
"fr2":[{"x":0.13,"h":0.75,"l":-0.95},{"x":0.18,"h":0.9,"l":-1.1},{"x":0.23,"h":0.95,"l":-1.2},{"x":0.28,"h":0.9,"l":-1.25},{"x":0.33,"h":1,"l":-1.2},{"x":0.38,"h":0.95,"l":-1.3},{"x":0.43,"h":0.95,"l":-1.25},{"x":0.48,"h":1,"l":-1.3},{"x":0.53,"h":0.9,"l":-1.25},{"x":0.58,"h":0.95,"l":-1.3},{"x":0.63,"h":0.9,"l":-1.3},{"x":0.68,"h":1.1,"l":-1.55},{"x":0.73,"h":1.2,"l":-1.7},{"x":0.78,"h":1.25,"l":-1.65},{"x":0.83,"h":1.35,"l":-1.75},{"x":0.97,"h":1.7,"l":-2.5},{"x":1.02,"h":1.85,"l":-2.75},{"x":1.07,"h":1.85,"l":-2.7},{"x":1.12,"h":2,"l":-2.6},{"x":1.17,"h":1.85,"l":-2.4},{"x":1.22,"h":1.7,"l":-2.5},{"x":1.27,"h":1.5,"l":-2.1},{"x":1.32,"h":1.45,"l":-1.95},{"x":1.37,"h":1.55,"l":-1.95},{"x":1.42,"h":1.55,"l":-2},{"x":1.47,"h":1.55,"l":-1.95},{"x":1.52,"h":1.45,"l":-1.9},{"x":1.57,"h":1.15,"l":-1.3},{"x":1.62,"h":0.95,"l":-1.05},{"x":1.67,"h":0.75,"l":-0.95},{"x":1.72,"h":0.6,"l":-0.8},{"x":1.95,"h":0.95,"l":-1.05},{"x":2,"h":0.95,"l":-1.1},{"x":2.05,"h":0.9,"l":-1.2},{"x":2.1,"h":0.95,"l":-1.15},{"x":2.15,"h":0.9,"l":-1.25},{"x":2.2,"h":0.9,"l":-1.2},{"x":2.25,"h":0.95,"l":-1.2},{"x":2.3,"h":0.9,"l":-1.2},{"x":2.35,"h":1,"l":-1.25},{"x":2.4,"h":0.9,"l":-1.2},{"x":2.45,"h":0.95,"l":-1.2},{"x":2.5,"h":0.95,"l":-1.2},{"x":2.68,"h":1.75,"l":-2.45},{"x":2.73,"h":1.85,"l":-2.65},{"x":2.78,"h":1.8,"l":-2.6},{"x":2.83,"h":1.9,"l":-2.65},{"x":2.88,"h":1.8,"l":-2.5},{"x":2.93,"h":1.85,"l":-2.65},{"x":2.98,"h":1.9,"l":-2.75},{"x":3.03,"h":1.85,"l":-2.5},{"x":3.08,"h":1.7,"l":-2.5},{"x":3.13,"h":1.9,"l":-2.45},{"x":3.18,"h":1.85,"l":-2.5},{"x":3.23,"h":1.65,"l":-2.5},{"x":3.28,"h":1.6,"l":-2.15},{"x":3.33,"h":1.7,"l":-2.4},{"x":3.5,"h":0.8,"l":-1.05},{"x":3.55,"h":0.9,"l":-1.2},{"x":3.6,"h":0.95,"l":-1.25},{"x":3.65,"h":1,"l":-1.3},{"x":3.7,"h":1,"l":-1.3},{"x":3.75,"h":0.95,"l":-1.3},{"x":3.8,"h":1.05,"l":-1.3},{"x":3.85,"h":1,"l":-1.25},{"x":3.9,"h":0.95,"l":-1.3},{"x":3.95,"h":1,"l":-1.3},{"x":4,"h":0.95,"l":-1.25},{"x":4.05,"h":0.9,"l":-1.3},{"x":4.1,"h":1.05,"l":-1.35},{"x":4.15,"h":1.05,"l":-1.45},{"x":4.32,"h":1.9,"l":-2.5},{"x":4.37,"h":2.05,"l":-2.8},{"x":4.42,"h":2.05,"l":-2.85},{"x":4.47,"h":1.95,"l":-2.9},{"x":4.52,"h":2.05,"l":-2.85},{"x":4.57,"h":1.95,"l":-2.85},{"x":4.62,"h":2.05,"l":-2.85},{"x":4.67,"h":1.95,"l":-2.95},{"x":4.72,"h":2.05,"l":-2.85},{"x":4.77,"h":2.1,"l":-2.95},{"x":4.82,"h":2.25,"l":-3},{"x":4.87,"h":2,"l":-2.85},{"x":4.92,"h":1.6,"l":-2.05},{"x":4.97,"h":1.5,"l":-1.85},{"x":5.02,"h":1.3,"l":-1.8},{"x":5.14,"h":0.8,"l":-1.05},{"x":5.19,"h":0.95,"l":-1.1},{"x":5.24,"h":1,"l":-1.2},{"x":5.29,"h":1.05,"l":-1.25},{"x":5.34,"h":1.1,"l":-1.25},{"x":5.39,"h":1.15,"l":-1.3},{"x":5.44,"h":1.15,"l":-1.3},{"x":5.49,"h":1.05,"l":-1.35},{"x":5.54,"h":1.1,"l":-1.35},{"x":5.59,"h":1.2,"l":-1.35},{"x":5.64,"h":1.1,"l":-1.3},{"x":5.69,"h":1.15,"l":-1.4},{"x":6,"h":1.85,"l":-2.5},{"x":6.05,"h":1.9,"l":-2.65},{"x":6.1,"h":1.85,"l":-2.8},{"x":6.15,"h":1.85,"l":-2.85},{"x":6.2,"h":1.9,"l":-3},{"x":6.25,"h":1.95,"l":-3.1},{"x":6.3,"h":1.85,"l":-2.7},{"x":6.35,"h":1.95,"l":-2.65},{"x":6.4,"h":1.85,"l":-2.6},{"x":6.47,"h":1.45,"l":-1.9},{"x":6.52,"h":1.35,"l":-2.15},{"x":6.57,"h":1.5,"l":-2.1},{"x":6.62,"h":1.45,"l":-2.2},{"x":6.67,"h":1.5,"l":-2.05},{"x":6.83,"h":0.95,"l":-1.1},{"x":6.88,"h":1.05,"l":-1.2},{"x":6.93,"h":1.1,"l":-1.3},{"x":6.98,"h":1.15,"l":-1.35},{"x":7.03,"h":1.2,"l":-1.4},{"x":7.08,"h":1.15,"l":-1.4},{"x":7.13,"h":1.05,"l":-1.35},{"x":7.18,"h":1,"l":-1.35},{"x":7.23,"h":1.05,"l":-1.3},{"x":7.68,"h":1.95,"l":-2.85},{"x":7.73,"h":1.9,"l":-2.85},{"x":7.78,"h":1.95,"l":-2.95},{"x":7.83,"h":1.85,"l":-2.9},{"x":7.88,"h":1.95,"l":-2.95},{"x":7.93,"h":1.85,"l":-3},{"x":7.98,"h":1.8,"l":-2.95},{"x":8.03,"h":1.7,"l":-2.65},{"x":8.08,"h":1.8,"l":-2.5},{"x":8.13,"h":1.85,"l":-2.75},{"x":8.18,"h":1.95,"l":-2.75},{"x":8.28,"h":1.45,"l":-2},{"x":8.33,"h":1.45,"l":-2},{"x":8.38,"h":1.45,"l":-2},{"x":8.5,"h":0.85,"l":-1},{"x":8.55,"h":0.95,"l":-1.15},{"x":8.65,"h":1.25,"l":-1.45},{"x":8.7,"h":1.3,"l":-1.5},{"x":8.75,"h":1.25,"l":-1.45},{"x":8.8,"h":1.25,"l":-1.4},{"x":8.85,"h":1.2,"l":-1.45},{"x":8.9,"h":1.25,"l":-1.5},{"x":8.95,"h":1.15,"l":-1.55},{"x":9,"h":1.1,"l":-1.45},{"x":9.05,"h":1.05,"l":-1.5}],
"sp2":[{"x":0.01,"h":1.01,"l":-0.95},{"x":0.024,"h":1,"l":-1.2},{"x":0.07,"h":0.5,"l":-0.7},{"x":0.1,"h":0.85,"l":-0.9},{"x":0.13,"h":0.9,"l":-1.05},{"x":0.16,"h":0.95,"l":-1.1},{"x":0.19,"h":1.05,"l":-1.3},{"x":0.22,"h":1.2,"l":-1.35},{"x":0.25,"h":1.15,"l":-1.4},{"x":0.28,"h":1.05,"l":-1.3},{"x":0.31,"h":1.3,"l":-1.35},{"x":0.34,"h":1.1,"l":-1.25},{"x":0.37,"h":1.1,"l":-1.3},{"x":0.4,"h":1.15,"l":-1.35},{"x":0.43,"h":1,"l":-1.55},{"x":0.46,"h":1.1,"l":-1.35},{"x":0.49,"h":1.2,"l":-1.25},{"x":0.52,"h":1.05,"l":-1.45},{"x":0.55,"h":1,"l":-1.3},{"x":0.58,"h":1.05,"l":-1.5},{"x":0.61,"h":1.15,"l":-1.45},{"x":0.64,"h":1.05,"l":-1.4},{"x":0.67,"h":1.2,"l":-1.7},{"x":0.7,"h":1.55,"l":-1.9},{"x":0.73,"h":1.3,"l":-1.85},{"x":0.76,"h":1.4,"l":-1.9},{"x":0.79,"h":1.45,"l":-1.75},{"x":0.82,"h":1.5,"l":-1.95},{"x":0.855,"h":1.77,"l":-2.12},{"x":0.95,"h":1.3,"l":-2.4},{"x":0.965,"h":1.85,"l":-2.75},{"x":0.988,"h":2.74,"l":-3.13},{"x":1.01,"h":1.95,"l":-2.85},{"x":1.04,"h":2,"l":-2.95},{"x":1.07,"h":1.95,"l":-3},{"x":1.1,"h":2.5,"l":-2.95},{"x":1.125,"h":2.2,"l":-2.85},{"x":1.15,"h":2.05,"l":-2.6},{"x":1.18,"h":1.95,"l":-2.5},{"x":1.21,"h":1.85,"l":-2.55},{"x":1.24,"h":1.75,"l":-2.3},{"x":1.27,"h":1.7,"l":-1.5},{"x":1.3,"h":1.4,"l":-2.1},{"x":1.33,"h":1.6,"l":-2},{"x":1.36,"h":1.75,"l":-2.1},{"x":1.39,"h":1.9,"l":-2.15},{"x":1.42,"h":1.65,"l":-2.3},{"x":1.45,"h":1.65,"l":-2},{"x":1.48,"h":1.65,"l":-2},{"x":1.51,"h":1.6,"l":-1.75},{"x":1.535,"h":1.6,"l":-1.75},{"x":1.558,"h":2.62,"l":-2.63},{"x":1.59,"h":1.3,"l":-1.3},{"x":1.62,"h":1.15,"l":-1.3},{"x":1.645,"h":0.85,"l":-1.45},{"x":1.68,"h":0.85,"l":-1.1},{"x":1.7,"h":0.95,"l":-1.55},{"x":1.73,"h":0.55,"l":-0.75},{"x":1.78,"h":0.65,"l":-0.75},{"x":1.84,"h":0.7,"l":-0.8},{"x":1.89,"h":0.55,"l":-0.95},{"x":1.92,"h":0.95,"l":-1.15},{"x":1.95,"h":1.1,"l":-1.15},{"x":1.98,"h":1.1,"l":-1.2},{"x":2.01,"h":1.05,"l":-1.25},{"x":2.04,"h":1.1,"l":-1.3},{"x":2.07,"h":1.05,"l":-1.3},{"x":2.1,"h":1.05,"l":-1.35},{"x":2.13,"h":1,"l":-1.35},{"x":2.16,"h":1,"l":-1.5},{"x":2.19,"h":1,"l":-1.25},{"x":2.22,"h":0.95,"l":-1.35},{"x":2.25,"h":1.05,"l":-1.4},{"x":2.28,"h":1,"l":-1.75},{"x":2.31,"h":1.1,"l":-1.3},{"x":2.35,"h":1.2,"l":-1.45},{"x":2.38,"h":1.05,"l":-1.3},{"x":2.41,"h":1.05,"l":-1.35},{"x":2.44,"h":1,"l":-1.3},{"x":2.47,"h":1.05,"l":-1.25},{"x":2.5,"h":1.2,"l":-1.35},{"x":2.539,"h":3.285,"l":-3.21},{"x":2.62,"h":1.1,"l":-1.3},{"x":2.64,"h":1.4,"l":-2.3},{"x":2.66,"h":1.6,"l":-2.5},{"x":2.69,"h":1.8,"l":-2.65},{"x":2.72,"h":2,"l":-2.8},{"x":2.75,"h":1.8,"l":-2.85},{"x":2.78,"h":1.85,"l":-2.75},{"x":2.8,"h":2.15,"l":-2.85},{"x":2.83,"h":2.1,"l":-2.75},{"x":2.86,"h":1.9,"l":-2.65},{"x":2.89,"h":1.9,"l":-2.6},{"x":2.92,"h":1.95,"l":-2.75},{"x":2.95,"h":1.85,"l":-2.85},{"x":2.98,"h":2.05,"l":-3},{"x":3.01,"h":1.95,"l":-2.7},{"x":3.04,"h":2.05,"l":-2.55},{"x":3.07,"h":1.75,"l":-2.6},{"x":3.1,"h":1.8,"l":-2.6},{"x":3.13,"h":2.1,"l":-2.55},{"x":3.16,"h":1.95,"l":-2.65},{"x":3.19,"h":2.2,"l":-2.6},{"x":3.22,"h":1.8,"l":-2.7},{"x":3.25,"h":1.7,"l":-2.4},{"x":3.28,"h":1.7,"l":-2.3},{"x":3.31,"h":1.75,"l":-2.6},{"x":3.34,"h":1.8,"l":-2.5},{"x":3.355,"h":1.85,"l":-2.55},{"x":3.375,"h":1.45,"l":-1.65},{"x":3.44,"h":0.65,"l":-0.95},{"x":3.47,"h":0.85,"l":-1.05},{"x":3.5,"h":0.9,"l":-1.15},{"x":3.53,"h":1,"l":-1.25},{"x":3.56,"h":1,"l":-1.3},{"x":3.59,"h":1.05,"l":-1.35},{"x":3.62,"h":1,"l":-1.3},{"x":3.65,"h":1.15,"l":-1.5},{"x":3.68,"h":1.1,"l":-1.45},{"x":3.695,"h":1.67,"l":-1.9},{"x":3.72,"h":1.1,"l":-1.55},{"x":3.75,"h":1.05,"l":-1.45},{"x":3.78,"h":1.25,"l":-1.45},{"x":3.81,"h":1.2,"l":-1.5},{"x":3.84,"h":1.2,"l":-1.4},{"x":3.87,"h":1.1,"l":-1.45},{"x":3.9,"h":1.15,"l":-1.35},{"x":3.93,"h":1.1,"l":-1.45},{"x":3.96,"h":1.15,"l":-1.45},{"x":3.99,"h":1.05,"l":-1.35},{"x":4.02,"h":1.25,"l":-1.5},{"x":4.05,"h":1,"l":-1.45},{"x":4.08,"h":1.05,"l":-1.35},{"x":4.11,"h":1.2,"l":-1.5},{"x":4.14,"h":1.15,"l":-1.5},{"x":4.17,"h":1.2,"l":-1.45},{"x":4.19,"h":1.5,"l":-1.55},{"x":4.21,"h":1.3,"l":-1.65},{"x":4.315,"h":2,"l":-2.55},{"x":4.34,"h":2.15,"l":-2.7},{"x":4.37,"h":2.25,"l":-2.9},{"x":4.4,"h":2.3,"l":-2.85},{"x":4.43,"h":2.2,"l":-2.95},{"x":4.46,"h":2.1,"l":-3.05},{"x":4.49,"h":2.1,"l":-3},{"x":4.52,"h":2.2,"l":-2.95},{"x":4.55,"h":2.1,"l":-3.05},{"x":4.58,"h":2,"l":-2.9},{"x":4.61,"h":2.2,"l":-2.95},{"x":4.64,"h":2.1,"l":-3},{"x":4.67,"h":2,"l":-3.1},{"x":4.7,"h":2.35,"l":-3},{"x":4.73,"h":2.05,"l":-2.95},{"x":4.76,"h":2.25,"l":-3.05},{"x":4.79,"h":2.2,"l":-3.1},{"x":4.82,"h":2.4,"l":-3.21},{"x":4.85,"h":2.25,"l":-3.21},{"x":4.88,"h":2.1,"l":-2.9},{"x":4.91,"h":1.75,"l":-2.45},{"x":4.93,"h":1.9,"l":-2.5},{"x":4.96,"h":1.75,"l":-2.4},{"x":4.99,"h":1.95,"l":-2.4},{"x":5.02,"h":1.9,"l":-2.3},{"x":5.05,"h":1.6,"l":-2.2},{"x":5.065,"h":0.7,"l":-1},{"x":5.13,"h":0.95,"l":-1.2},{"x":5.16,"h":1.05,"l":-1.1},{"x":5.19,"h":1.1,"l":-1.2},{"x":5.22,"h":1.05,"l":-1.3},{"x":5.25,"h":1.25,"l":-1.35},{"x":5.28,"h":1.15,"l":-1.4},{"x":5.31,"h":1.2,"l":-1.45},{"x":5.34,"h":1.3,"l":-1.35},{"x":5.37,"h":1.25,"l":-1.4},{"x":5.4,"h":1.35,"l":-1.45},{"x":5.43,"h":1.35,"l":-1.4},{"x":5.46,"h":1.25,"l":-1.55},{"x":5.49,"h":1.15,"l":-1.6},{"x":5.52,"h":1.3,"l":-1.4},{"x":5.55,"h":1.2,"l":-1.5},{"x":5.59,"h":1.6,"l":-1.6},{"x":5.62,"h":1.25,"l":-1.45},{"x":5.65,"h":1.3,"l":-1.4},{"x":5.68,"h":1.3,"l":-1.6},{"x":5.71,"h":1.4,"l":-1.65},{"x":5.72,"h":1.85,"l":-2.05},{"x":5.75,"h":1.55,"l":-1.75},{"x":5.79,"h":3.285,"l":-3.21},{"x":5.82,"h":3,"l":-3.21},{"x":5.84,"h":3.15,"l":-3.21},{"x":5.88,"h":3.285,"l":-3.21},{"x":5.99,"h":1.9,"l":-2.6},{"x":6.02,"h":2.05,"l":-2.65},{"x":6.05,"h":1.95,"l":-2.8},{"x":6.08,"h":2.05,"l":-2.85},{"x":6.11,"h":1.85,"l":-2.9},{"x":6.14,"h":1.95,"l":-2.95},{"x":6.17,"h":2.15,"l":-3.05},{"x":6.2,"h":1.95,"l":-3.1},{"x":6.23,"h":2,"l":-3.21},{"x":6.26,"h":2.05,"l":-3},{"x":6.29,"h":2.05,"l":-2.85},{"x":6.32,"h":1.85,"l":-2.85},{"x":6.35,"h":2.2,"l":-2.75},{"x":6.38,"h":2.05,"l":-2.7},{"x":6.41,"h":1.95,"l":-2.65},{"x":6.44,"h":1.8,"l":-1.9},{"x":6.47,"h":1.6,"l":-2.05},{"x":6.5,"h":1.45,"l":-2.3},{"x":6.53,"h":1.7,"l":-2.4},{"x":6.56,"h":1.65,"l":-2.2},{"x":6.59,"h":1.55,"l":-2.35},{"x":6.62,"h":1.75,"l":-2.3},{"x":6.65,"h":1.6,"l":-2.15},{"x":6.68,"h":1.7,"l":-2.25},{"x":6.71,"h":1.45,"l":-2},{"x":6.83,"h":1.05,"l":-1.2},{"x":6.86,"h":1.2,"l":-1.4},{"x":6.89,"h":1.25,"l":-1.45},{"x":6.92,"h":1.2,"l":-1.55},{"x":6.95,"h":1.3,"l":-1.6},{"x":6.98,"h":1.25,"l":-1.5},{"x":7.01,"h":1.45,"l":-1.65},{"x":7.04,"h":1.3,"l":-1.75},{"x":7.07,"h":1.35,"l":-1.55},{"x":7.09,"h":1.3,"l":-1.8},{"x":7.12,"h":1.15,"l":-1.6},{"x":7.15,"h":1.2,"l":-1.7},{"x":7.18,"h":1.1,"l":-1.55},{"x":7.21,"h":1.15,"l":-1.6},{"x":7.24,"h":1.05,"l":-1.5},{"x":7.27,"h":1.2,"l":-1.55},{"x":7.31,"h":3.285,"l":-3.21},{"x":7.38,"h":3.285,"l":-3.21},{"x":7.42,"h":3.285,"l":-3.21},{"x":7.46,"h":3.285,"l":-3.21},{"x":7.5,"h":3.285,"l":-3.21},{"x":7.55,"h":3.285,"l":-3.21},{"x":7.655,"h":2.2,"l":-2.95},{"x":7.68,"h":2,"l":-2.9},{"x":7.71,"h":2.1,"l":-3},{"x":7.74,"h":2.15,"l":-2.9},{"x":7.77,"h":2.2,"l":-2.95},{"x":7.78,"h":2.3,"l":-3.1},{"x":7.82,"h":2.05,"l":-3},{"x":7.85,"h":2.2,"l":-3.05},{"x":7.89,"h":2.05,"l":-3.2},{"x":7.92,"h":2.1,"l":-3.1},{"x":7.95,"h":1.95,"l":-3.05},{"x":7.98,"h":1.95,"l":-3.05},{"x":8.01,"h":1.95,"l":-3.15},{"x":8.04,"h":1.8,"l":-2.75},{"x":8.07,"h":1.95,"l":-2.6},{"x":8.1,"h":2.2,"l":-2.75},{"x":8.13,"h":2.05,"l":-2.95},{"x":8.16,"h":2.3,"l":-3.1},{"x":8.17,"h":2.55,"l":-3},{"x":8.2,"h":2.2,"l":-2.85},{"x":8.22,"h":2.35,"l":-2.95},{"x":8.26,"h":1.55,"l":-2.1},{"x":8.29,"h":1.6,"l":-2.15},{"x":8.32,"h":1.65,"l":-2.2},{"x":8.35,"h":1.6,"l":-2.15},{"x":8.37,"h":1.65,"l":-2.1},{"x":8.4,"h":1.5,"l":-2.15},{"x":8.48,"h":0.95,"l":-1},{"x":8.51,"h":1,"l":-1.2},{"x":8.54,"h":1.1,"l":-1.35},{"x":8.57,"h":0.95,"l":-1.2},{"x":8.6,"h":1.05,"l":-1.3},{"x":8.62,"h":1.45,"l":-1.45},{"x":8.65,"h":1.35,"l":-1.65},{"x":8.68,"h":1.5,"l":-1.55},{"x":8.71,"h":1.4,"l":-1.8},{"x":8.74,"h":1.4,"l":-1.55},{"x":8.77,"h":1.35,"l":-1.6},{"x":8.8,"h":1.35,"l":-1.5},{"x":8.83,"h":1.25,"l":-1.85},{"x":8.86,"h":1.35,"l":-1.55},{"x":8.89,"h":1.45,"l":-1.55},{"x":8.92,"h":1.3,"l":-1.7},{"x":8.95,"h":1.25,"l":-1.75},{"x":8.98,"h":1.3,"l":-1.6},{"x":9.01,"h":1.15,"l":-1.55},{"x":9.04,"h":1.1,"l":-1.75},{"x":9.07,"h":1.3,"l":-1.6},{"x":9.1,"h":1.4,"l":-2},{"x":9.155,"h":3.285,"l":-3.21},{"x":9.19,"h":3.285,"l":-3.21},{"x":9.23,"h":3.285,"l":-3.21},{"x":9.32,"h":0.85,"l":-1},{"x":9.33,"h":1,"l":-1.37}],
"arrows":[{"x":-0.346,"y":-1.35,"x2":0.03,"y2":-0.06},{"x":0.39,"y":-1.77,"x2":0.86,"y2":-0.13},{"x":1.238,"y":-1.82,"x2":1.708,"y2":-0.17},{"x":2.079,"y":-1.79,"x2":2.546,"y2":-0.13},{"x":2.89,"y":-1.82,"x2":3.362,"y2":-0.17},{"x":3.758,"y":-1.8,"x2":4.228,"y2":-0.15},{"x":4.6,"y":-1.78,"x2":5.036,"y2":-0.13},{"x":5.408,"y":-1.8,"x2":5.877,"y2":-0.16},{"x":6.23,"y":-1.79,"x2":6.7,"y2":-0.15},{"x":7.105,"y":-1.84,"x2":7.576,"y2":-0.19},{"x":7.94,"y":-1.78,"x2":8.41,"y2":-0.13},{"x":8.79,"y":-1.8,"x2":9.26,"y2":-0.15}],
"arrowheads":[{"x":0.046,"y":-0.02},{"x":0.88,"y":-0.07},{"x":1.728,"y":-0.11},{"x":2.566,"y":-0.07},{"x":3.382,"y":-0.11},{"x":4.248,"y":-0.09},{"x":5.056,"y":-0.07},{"x":5.897,"y":-0.1},{"x":6.72,"y":-0.09},{"x":7.596,"y":-0.13},{"x":8.43,"y":-0.07},{"x":9.28,"y":-0.09}],
"mult":[{"x":0.046,"y":4.08,"t":"×"},{"x":9.356,"y":-5.78,"t":"×"}],
"ten":[{"x":0.282,"y":4.138,"t":"10"},{"x":9.589,"y":-5.724,"t":"10"}],
"sup1":[{"x":0.583,"y":4.463,"t":"4"},{"x":9.887,"y":-5.42,"t":"7"}]
},
"vconcat":[
{"width":2960,"height":1132,"resolve":{"axis":{"x":"independent","y":"independent"}},"layer":[
{"data":{"name":"core1"},"mark":{"type":"area","color":"#0072BD"},"encoding":{"x":{"field":"x","type":"quantitative","scale":{"domain":[0,10],"nice":false},"axis":{"orient":"bottom","values":[0,1,2,3,4,5,6,7,8,9,10],"title":null,"grid":false,"domain":false,"tickSize":-29,"tickWidth":1.5,"tickColor":"#262626","labelFont":"Liberation Serif","labelFontWeight":"bold","labelFontSize":90,"labelColor":"#262626","labelPadding":139,"labelBaseline":"alphabetic","labelFlush":false,"labelOverlap":false}},"y":{"field":"h","type":"quantitative","scale":{"domain":[-4,4],"nice":false},"axis":{"orient":"left","values":[-4,-2,0,2,4],"title":null,"grid":false,"domain":false,"tickSize":-29,"tickWidth":1.5,"tickColor":"#262626","labelFont":"Liberation Serif","labelFontWeight":"bold","labelFontSize":90,"labelColor":"#262626","labelPadding":56,"labelOverlap":false,"labelFlush":false,"labelExpr":"''+datum.value"}},"y2":{"field":"l"}}},
{"data":{"name":"sp1"},"mark":{"type":"rule","color":"#0072BD","strokeWidth":2.2,"opacity":0.85},"encoding":{"x":{"field":"x","type":"quantitative","scale":{"domain":[0,10],"nice":false},"axis":{"orient":"top","values":[0,1,2,3,4,5,6,7,8,9,10],"title":null,"grid":false,"domain":false,"labels":false,"tickSize":-29,"tickWidth":1.5,"tickColor":"#262626"}},"y":{"field":"h","type":"quantitative","scale":{"domain":[-4,4],"nice":false},"axis":{"orient":"right","values":[-4,-2,0,2,4],"title":null,"grid":false,"domain":false,"labels":false,"tickSize":-29,"tickWidth":1.5,"tickColor":"#262626"}},"y2":{"field":"l"}}},
{"data":{"name":"fr1"},"mark":{"type":"rule","color":"#0072BD","strokeWidth":8},"encoding":{"x":{"field":"x","type":"quantitative","axis":null},"y":{"field":"h","type":"quantitative","axis":null},"y2":{"field":"l"}}},
{"data":{"values":[{"x":5,"y":4.26,"t":"Microphone signal before filtering"}]},"mark":{"type":"text","font":"Liberation Serif","fontWeight":"bold","fontSize":101,"color":"#000000","align":"center","baseline":"alphabetic"},"encoding":{"x":{"field":"x","type":"quantitative","axis":null},"y":{"field":"y","type":"quantitative","axis":null},"text":{"field":"t"}}},
{"data":{"name":"mult"},"mark":{"type":"text","font":"Liberation Serif","fontSize":100,"color":"#262626","align":"left","baseline":"alphabetic"},"encoding":{"x":{"field":"x","type":"quantitative","axis":null},"y":{"field":"y","type":"quantitative","axis":null},"text":{"field":"t"}}},
{"data":{"name":"ten"},"mark":{"type":"text","font":"Liberation Serif","fontWeight":"bold","fontSize":86,"color":"#262626","align":"left","baseline":"alphabetic"},"encoding":{"x":{"field":"x","type":"quantitative","axis":null},"y":{"field":"y","type":"quantitative","axis":null},"text":{"field":"t"}}},
{"data":{"name":"sup1"},"mark":{"type":"text","font":"Liberation Serif","fontWeight":"bold","fontSize":68,"color":"#262626","align":"left","baseline":"alphabetic"},"encoding":{"x":{"field":"x","type":"quantitative","axis":null},"y":{"field":"y","type":"quantitative","axis":null},"text":{"field":"t"}}},
{"data":{"values":[{"x":-0.346,"y":-6.76,"t":"(a)"}]},"mark":{"type":"text","font":"Liberation Serif","fontSize":72,"color":"#1a1a1a","align":"left","baseline":"alphabetic"},"encoding":{"x":{"field":"x","type":"quantitative","axis":null},"y":{"field":"y","type":"quantitative","axis":null},"text":{"field":"t"}}}
]},
{"width":2960,"height":1132,"resolve":{"axis":{"x":"independent","y":"independent"}},"layer":[
{"data":{"name":"core2"},"mark":{"type":"area","color":"#0072BD"},"encoding":{"x":{"field":"x","type":"quantitative","scale":{"domain":[0,10],"nice":false},"axis":{"orient":"bottom","values":[0,1,2,3,4,5,6,7,8,9,10],"title":null,"grid":false,"domain":false,"tickSize":-29,"tickWidth":1.5,"tickColor":"#262626","labelFont":"Liberation Serif","labelFontWeight":"bold","labelFontSize":90,"labelColor":"#262626","labelPadding":139,"labelBaseline":"alphabetic","labelFlush":false,"labelOverlap":false}},"y":{"field":"h","type":"quantitative","scale":{"domain":[-4,4],"nice":false},"axis":{"orient":"left","values":[-4,-2,0,2,4],"title":null,"grid":false,"domain":false,"tickSize":-29,"tickWidth":1.5,"tickColor":"#262626","labelFont":"Liberation Serif","labelFontWeight":"bold","labelFontSize":90,"labelColor":"#262626","labelPadding":56,"labelOverlap":false,"labelFlush":false,"labelExpr":"''+datum.value"}},"y2":{"field":"l"}}},
{"data":{"name":"sp2"},"mark":{"type":"rule","color":"#0072BD","strokeWidth":2.2,"opacity":0.85},"encoding":{"x":{"field":"x","type":"quantitative","scale":{"domain":[0,10],"nice":false},"axis":{"orient":"top","values":[0,1,2,3,4,5,6,7,8,9,10],"title":null,"grid":false,"domain":false,"labels":false,"tickSize":-29,"tickWidth":1.5,"tickColor":"#262626"}},"y":{"field":"h","type":"quantitative","scale":{"domain":[-4,4],"nice":false},"axis":{"orient":"right","values":[-4,-2,0,2,4],"title":null,"grid":false,"domain":false,"labels":false,"tickSize":-29,"tickWidth":1.5,"tickColor":"#262626"}},"y2":{"field":"l"}}},
{"data":{"name":"fr2"},"mark":{"type":"rule","color":"#0072BD","strokeWidth":8},"encoding":{"x":{"field":"x","type":"quantitative","axis":null},"y":{"field":"h","type":"quantitative","axis":null},"y2":{"field":"l"}}},
{"data":{"name":"arrows"},"mark":{"type":"rule","color":"#A0122E","strokeWidth":6},"encoding":{"x":{"field":"x","type":"quantitative","axis":null},"y":{"field":"y","type":"quantitative","axis":null},"x2":{"field":"x2"},"y2":{"field":"y2"}}},
{"data":{"name":"arrowheads"},"mark":{"type":"point","filled":true,"opacity":1,"color":"#A0122E","strokeWidth":0,"shape":"M0,0L-0.35,0.9L0,0.63L0.35,0.9Z","size":17000,"angle":30},"encoding":{"x":{"field":"x","type":"quantitative","axis":null},"y":{"field":"y","type":"quantitative","axis":null}}},
{"data":{"values":[{"x":3.5,"y":2.496,"x2":4.17,"y2":2.496}]},"mark":{"type":"rule","color":"#262626","strokeWidth":5},"encoding":{"x":{"field":"x","type":"quantitative","axis":null},"y":{"field":"y","type":"quantitative","axis":null},"x2":{"field":"x2"},"y2":{"field":"y2"}}},
{"data":{"values":[{"x":4.34,"y":2.5,"x2":5.01,"y2":2.5}]},"mark":{"type":"rule","color":"#000000","strokeWidth":5},"encoding":{"x":{"field":"x","type":"quantitative","axis":null},"y":{"field":"y","type":"quantitative","axis":null},"x2":{"field":"x2"},"y2":{"field":"y2"}}},
{"data":{"values":[{"x":4.225,"y":2.496}]},"mark":{"type":"point","filled":true,"opacity":1,"color":"#262626","strokeWidth":0,"shape":"M0,0L-0.35,0.9L0,0.63L0.35,0.9Z","size":17000,"angle":90},"encoding":{"x":{"field":"x","type":"quantitative","axis":null},"y":{"field":"y","type":"quantitative","axis":null}}},
{"data":{"values":[{"x":3.451,"y":2.496}]},"mark":{"type":"point","filled":true,"opacity":1,"color":"#262626","strokeWidth":0,"shape":"M0,0L-0.35,0.9L0,0.63L0.35,0.9Z","size":17000,"angle":270},"encoding":{"x":{"field":"x","type":"quantitative","axis":null},"y":{"field":"y","type":"quantitative","axis":null}}},
{"data":{"values":[{"x":5.066,"y":2.5}]},"mark":{"type":"point","filled":true,"opacity":1,"color":"#000000","strokeWidth":0,"shape":"M0,0L-0.35,0.9L0,0.63L0.35,0.9Z","size":17000,"angle":90},"encoding":{"x":{"field":"x","type":"quantitative","axis":null},"y":{"field":"y","type":"quantitative","axis":null}}},
{"data":{"values":[{"x":4.292,"y":2.5}]},"mark":{"type":"point","filled":true,"opacity":1,"color":"#000000","strokeWidth":0,"shape":"M0,0L-0.35,0.9L0,0.63L0.35,0.9Z","size":17000,"angle":270},"encoding":{"x":{"field":"x","type":"quantitative","axis":null},"y":{"field":"y","type":"quantitative","axis":null}}},
{"data":{"values":[{"x":0.444,"y":-2.066,"t":"aircut"},{"x":2.09,"y":-2.066,"t":"aircut"}]},"mark":{"type":"text","font":"Liberation Serif","fontWeight":"bold","fontSize":67,"color":"#A0122E","align":"center","baseline":"alphabetic"},"encoding":{"x":{"field":"x","type":"quantitative","axis":null},"y":{"field":"y","type":"quantitative","axis":null},"text":{"field":"t"}}},
{"data":{"values":[{"x":3.255,"y":3.541,"t":"Signals corresponding to"},{"x":3.255,"y":3.096,"t":"two consecutive machining"},{"x":3.255,"y":2.651,"t":"lines on the workpiece"}]},"mark":{"type":"text","font":"Liberation Serif","fontWeight":"bold","fontSize":54,"color":"#000000","align":"left","baseline":"alphabetic"},"encoding":{"x":{"field":"x","type":"quantitative","axis":null},"y":{"field":"y","type":"quantitative","axis":null},"text":{"field":"t"}}},
{"data":{"values":[{"x":5,"y":4.26,"t":"Microphone signal after filtering"}]},"mark":{"type":"text","font":"Liberation Serif","fontWeight":"bold","fontSize":101,"color":"#000000","align":"center","baseline":"alphabetic"},"encoding":{"x":{"field":"x","type":"quantitative","axis":null},"y":{"field":"y","type":"quantitative","axis":null},"text":{"field":"t"}}},
{"data":{"name":"mult"},"mark":{"type":"text","font":"Liberation Serif","fontSize":100,"color":"#262626","align":"left","baseline":"alphabetic"},"encoding":{"x":{"field":"x","type":"quantitative","axis":null},"y":{"field":"y","type":"quantitative","axis":null},"text":{"field":"t"}}},
{"data":{"name":"ten"},"mark":{"type":"text","font":"Liberation Serif","fontWeight":"bold","fontSize":86,"color":"#262626","align":"left","baseline":"alphabetic"},"encoding":{"x":{"field":"x","type":"quantitative","axis":null},"y":{"field":"y","type":"quantitative","axis":null},"text":{"field":"t"}}},
{"data":{"name":"sup1"},"mark":{"type":"text","font":"Liberation Serif","fontWeight":"bold","fontSize":68,"color":"#262626","align":"left","baseline":"alphabetic"},"encoding":{"x":{"field":"x","type":"quantitative","axis":null},"y":{"field":"y","type":"quantitative","axis":null},"text":{"field":"t"}}},
{"data":{"values":[{"x":-0.346,"y":-6.76,"t":"(b)"}]},"mark":{"type":"text","font":"Liberation Serif","fontWeight":"bold","fontSize":72,"color":"#1a1a1a","align":"left","baseline":"alphabetic"},"encoding":{"x":{"field":"x","type":"quantitative","axis":null},"y":{"field":"y","type":"quantitative","axis":null},"text":{"field":"t"}}}
]}
]}
